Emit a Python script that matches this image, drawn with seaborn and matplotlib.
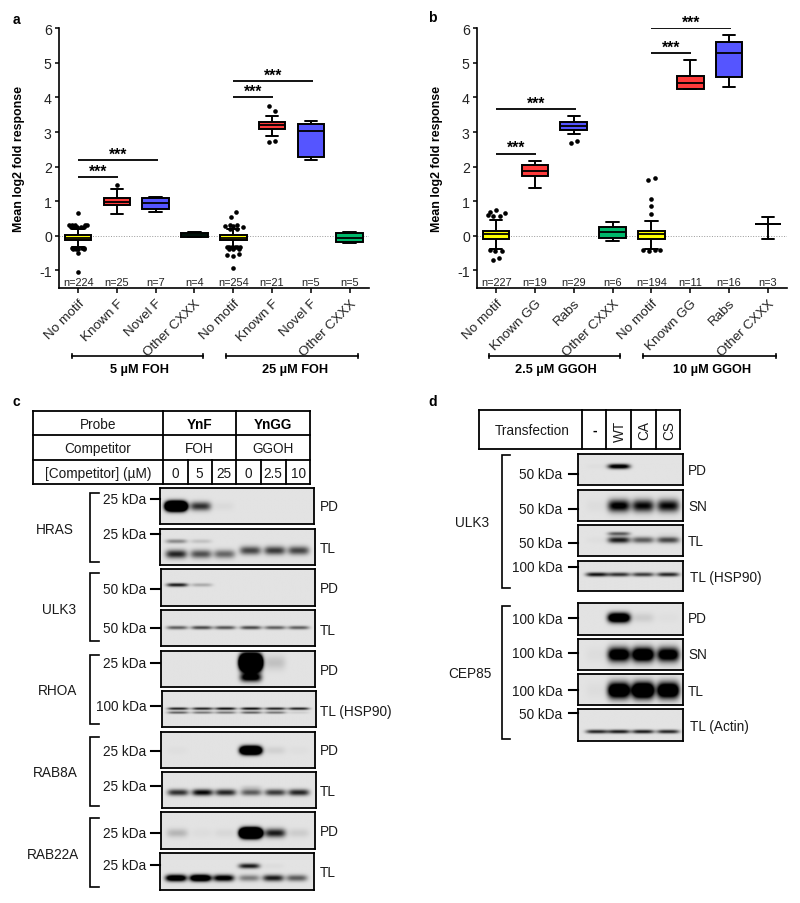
import numpy as np
import pandas as pd
import matplotlib
matplotlib.use("Agg")
import matplotlib.pyplot as plt
import seaborn as sns

sns.set_theme(style="ticks")
plt.rcParams["font.family"] = ["Liberation Sans", "DejaVu Sans"]
plt.rcParams["axes.unicode_minus"] = False

W, H = 800, 904

# ---- box plot values ----
box_colors = ["#FFFF00", "#FF3B3B", "#5555FF", "#00B86B"] * 2

a_labels = ["No motif", "Known F", "Novel F", "Other CXXX"] * 2
a_counts = ["n=224", "n=25", "n=7", "n=4", "n=254", "n=21", "n=5", "n=5"]
a_low = [-0.33, 0.64, 0.70, -0.03, -0.33, 2.90, 2.18, -0.20]
a_q1 = [-0.13, 0.88, 0.78, -0.03, -0.12, 3.10, 2.28, -0.17]
a_med = [-0.05, 0.98, 0.95, 0.03, -0.05, 3.20, 3.02, -0.05]
a_q3 = [0.02, 1.08, 1.09, 0.08, 0.02, 3.30, 3.24, 0.07]
a_high = [0.20, 1.35, 1.12, 0.10, 0.20, 3.45, 3.32, 0.10]
a_out_x = [0, -.23, -.15, -.08, .24, .17, -.17, -.1, -.02, .08, .15, -.16, -.1, .1, .16, -.14, -.05, .01, .14, 0, 0,
           1.0,
           4.08, 3.93, 3.91, 3.79, 4.0, 4.1, 4.24, 3.92, 4.1, 3.84, 3.9, 3.96, 4.04, 4.1, 4.18, 3.88, 4.0, 4.14, 3.85, 4.0, 4.15, 4.0,
           4.92, 5.08, 4.92, 5.08]
a_out_y = [.67, .3, .3, .3, .3, .3, .25, .25, .25, .25, .25, -.34, -.34, -.34, -.34, -.38, -.38, -.38, -.38, -.5, -1.06,
           1.46,
           .69, .53, .3, .27, .28, .3, .26, .2, .2, -.31, -.31, -.31, -.31, -.31, -.31, -.38, -.38, -.38, -.56, -.58, -.53, -.94,
           3.76, 3.62, 2.71, 2.75]

b_labels = ["No motif", "Known GG", "Rabs", "Other CXXX"] * 2
b_counts = ["n=227", "n=19", "n=29", "n=6", "n=194", "n=11", "n=16", "n=3"]
b_low = [-0.38, 1.37, 2.95, -0.14, -0.38, 4.25, 4.30, -0.09]
b_q1 = [-0.08, 1.73, 3.06, -0.06, -0.08, 4.25, 4.60, 0.33]
b_med = [0.04, 1.88, 3.18, 0.10, 0.04, 4.43, 5.30, 0.33]
b_q3 = [0.15, 2.06, 3.28, 0.25, 0.15, 4.62, 5.60, 0.33]
b_high = [0.47, 2.15, 3.45, 0.39, 0.44, 5.07, 5.82, 0.53]
b_out_x = [0, -.16, .23, -.21, -.08, .09, -.15, -.02, .14, -.08, .08, 1.93, 2.09, 3.92, 4.08, 4, 4, 4, 3.78, 3.93, 4.08, 4.23]
b_out_y = [.75, .69, .65, .6, .58, .58, -.42, -.45, -.43, -.69, -.65, 2.68, 2.73, 1.6, 1.66, 1.06, .85, .63, -.4, -.44, -.41, -.4]

a_sig = [(0, 2.05, 2.19), (0, 1.03, 1.71), (4, 6.05, 4.48), (4, 5.03, 4.0)]
b_sig = [(0, 2.05, 3.67), (0, 1.03, 2.38), (4, 6.04, 6.01), (4, 5.01, 5.29)]

# ---- blot band intensities: (box, rows of y, thickness, lane intensities) ----
c_lanes = [.103, .262, .413, .58, .737, .89]
d_lanes = [.18, .39, .62, .86]

c_blots = [
    ((160, 489, 314, 525), [(.52, .12, [4, .8, .04, 0, 0, 0])]),
    ((160, 530, 315, 566), [(.34, .06, [.4, .15, 0, 0, 0, 0]), (.70, .12, [.85, .65, .55, 0, 0, 0]),
                            (.60, .12, [0, 0, 0, .7, .75, .7])]),
    ((161, 570, 315, 607), [(.43, .05, [.9, .25, 0, 0, 0, 0])]),
    ((161, 611, 315, 647), [(.49, .05, [.6, .7, .65, .7, .6, .6])]),
    ((161, 652, 315, 688), [(.32, .2, [0, 0, 0, 6, .15, 0]), (.74, .12, [0, 0, 0, 1.2, 0, 0])]),
    ((162, 692, 316, 728), [(.49, .035, [.9, .9, 1, 1, .9, .9]), (.60, .035, [.6, .5, .5, .6, .5, .1])]),
    ((161, 733, 315, 769), [(.51, .11, [.02, 0, 0, 3, .08, .02])]),
    ((162, 773, 316, 809), [(.57, .09, [.8, 1, .85, .6, .75, .85]), (.43, .07, [0, 0, 0, .1, 0, 0])]),
    ((161, 813, 315, 850), [(.57, .12, [.2, .03, .05, 5, .9, .1])]),
    ((160, 854, 314, 891), [(.35, .07, [0, 0, 0, .9, .03, 0]), (.68, .09, [1.5, 1.8, 1.2, .45, .9, .6])]),
]
d_blots = [
    ((578, 455, 683, 486), [(.40, .08, [.02, 1.2, 0, 0])]),
    ((578, 491, 683, 522), [(.51, .2, [.03, 1.1, 1.0, 1.0])]),
    ((578, 526, 683, 557), [(.50, .1, [.02, .9, .6, .7]), (.30, .06, [0, .6, 0, .03])]),
    ((578, 562, 683, 592), [(.45, .07, [.95, .8, .75, .85])]),
    ((578, 604, 683, 636), [(.46, .15, [0, 1.8, .1, .02])]),
    ((578, 640, 683, 671), [(.52, .22, [.03, 1.5, 1.7, 1.4])]),
    ((578, 675, 683, 706), [(.53, .25, [.03, 1.8, 2.1, 1.8])]),
    ((578, 710, 683, 742), [(.71, .06, [.85, .9, .9, .85])]),
]

# ---- blot annotations ----
c_proteins = [("HRAS", 55, 530, 494, 563), ("ULK3", 59, 610, 574, 642), ("RHOA", 58, 691, 656, 725),
              ("RAB8A", 55, 773, 738, 807), ("RAB22A", 53, 855, 819, 888)]
c_kda = [("25 kDa", 500), ("25 kDa", 535), ("50 kDa", 590), ("50 kDa", 629), ("25 kDa", 664),
         ("100 kDa", 707), ("25 kDa", 752), ("25 kDa", 787), ("25 kDa", 834), ("25 kDa", 866)]
c_right = [("PD", 507), ("TL", 549), ("PD", 589), ("TL", 631), ("PD", 671), ("TL (HSP90)", 712),
           ("PD", 751), ("TL", 792), ("PD", 832), ("TL", 873)]
d_proteins = [("ULK3", 472, 523, 456, 589), ("CEP85", 470, 674, 607, 740)]
d_kda = [("50 kDa", 475, 475), ("50 kDa", 510, 510), ("50 kDa", 544, 544), ("100 kDa", 568, 568),
         ("100 kDa", 620, 619), ("100 kDa", 654, 654), ("100 kDa", 692, 691), ("50 kDa", 715, 714)]
d_right = [("PD", 471), ("SN", 507), ("TL", 542), ("TL (HSP90)", 578), ("PD", 619), ("SN", 655),
           ("TL", 692), ("TL (Actin)", 727)]

fig = plt.figure(figsize=(W / 100, H / 100), dpi=100)


def px_axes(x0, y0, x1, y1, **kw):
    return fig.add_axes([x0 / W, 1 - y1 / H, (x1 - x0) / W, (y1 - y0) / H], **kw)


def box_panel(box, labels, counts, low, q1, med, q3, high, out_x, out_y, sig):
    ax = px_axes(*box)
    df = pd.DataFrame({"low": low, "q1": q1, "med": med, "q3": q3, "high": high})
    df["pos"] = range(8)
    df = df.melt(id_vars="pos", value_name="value")
    sns.boxplot(data=df, x="pos", y="value", hue="pos", palette=box_colors, legend=False, whis=(0, 100),
                width=0.685, linewidth=1.4, linecolor="black", capwidths=0.32, saturation=1, ax=ax,
                medianprops={"color": "black", "linewidth": 1.3})
    sns.scatterplot(x=out_x, y=out_y, color="black", s=11, linewidth=0, zorder=5, ax=ax, legend=False)
    ax.axhline(0, color="#999999", lw=0.7, ls=":", zorder=0)
    for x0, x1, y in sig:
        ax.plot([x0, x1], [y, y], color="black", lw=1.3, solid_capstyle="butt")
        ax.text((x0 + x1) / 2, y - 0.05, "***", ha="center", va="bottom", fontsize=11.3, fontweight="bold", color="black")
    for i, n in enumerate(counts):
        ax.text(i, -1.33, n, ha="center", va="center", fontsize=7.9, color="#222222")
    ax.set_xlim(-0.5, 7.5)
    ax.set_ylim(-1.5, 6)
    ax.set_yticks(range(-1, 7))
    ax.set_xticks(range(8))
    ax.set_xticklabels(labels, rotation=45, ha="right", rotation_mode="anchor", fontsize=9.7, color="#222222")
    ax.tick_params(axis="x", length=3.5, width=1.1, pad=3, color="black")
    ax.tick_params(axis="y", length=3, width=1.1, pad=2, labelsize=10.2, labelcolor="#222222", color="black")
    ax.set_xlabel("")
    ax.set_ylabel("Mean log2 fold response", fontsize=8.9, fontweight="bold", color="black")
    ax.yaxis.set_label_coords(-33.5 / (box[2] - box[0]), 0.5)
    for s in ["top", "right"]:
        ax.spines[s].set_visible(False)
    for s in ["left", "bottom"]:
        ax.spines[s].set_linewidth(1.2)
        ax.spines[s].set_color("black")
    ax.patch.set_alpha(0)
    return ax


box_panel((58.7, 29.3, 369, 288.7), a_labels, a_counts, a_low, a_q1, a_med, a_q3, a_high, a_out_x, a_out_y, a_sig)
box_panel((476.7, 29.3, 787.3, 288.7), b_labels, b_counts, b_low, b_q1, b_med, b_q3, b_high, b_out_x, b_out_y, b_sig)


def draw_blot(box, rows, lanes, half):
    ax = px_axes(*box)
    xx, yy = np.meshgrid(np.linspace(0, 1, 220), np.linspace(0, 1, 70))
    dens = np.zeros_like(xx)
    for y0, sy, vals in rows:
        for c, v in zip(lanes, vals):
            dens += v * np.exp(-((xx - c) / half) ** 4) * np.exp(-((yy - y0) / sy) ** 2)
    img = 0.89 * (1 - np.clip(dens, 0, 1))
    ax.imshow(img, cmap="gray", vmin=0, vmax=1, aspect="auto", extent=(0, 1, 1, 0), interpolation="bilinear")
    ax.set_xticks([])
    ax.set_yticks([])
    for s in ax.spines.values():
        s.set_linewidth(1.3)
        s.set_color("black")


for box, rows in c_blots:
    draw_blot(box, rows, c_lanes, 0.068)
for box, rows in d_blots:
    draw_blot(box, rows, d_lanes, 0.105)

# overlay in pixel coordinates for tables, brackets and labels
ov = fig.add_axes([0, 0, 1, 1], zorder=10)
ov.set_xlim(0, W)
ov.set_ylim(H, 0)
ov.axis("off")
TXT = 9.8


def line(xs, ys, lw=1.2):
    ov.plot(xs, ys, color="black", lw=lw, solid_capstyle="projecting", solid_joinstyle="miter")


def txt(x, y, s, ha="center", size=TXT, **kw):
    ov.text(x, y, s, ha=ha, va="center", fontsize=size, color=kw.pop("color", "#1a1a1a"), **kw)


for x, y, s in [(16, 20.5, "a"), (432, 18, "b"), (16, 402, "c"), (433, 402, "d")]:
    txt(x, y, s, size=10, fontweight="bold", color="black")

# group brackets below the box plots
for x0, x1, cx, s in [(71.7, 202.7, 140, "5 µM FOH"), (225.7, 358, 295, "25 µM FOH"),
                      (489, 620, 555.5, "2.5 µM GGOH"), (643.3, 776, 712.5, "10 µM GGOH")]:
    line([x0, x1], [356.7, 356.7])
    line([x0, x0], [354.7, 358.7])
    line([x1, x1], [354.7, 358.7])
    txt(cx, 370, s, size=9.2, fontweight="bold", color="black")

# table c
for x in [32.7, 162.7, 236, 310]:
    line([x, x], [411.7, 485.3], 1.3)
for y in [411.7, 436, 460.7, 485.3]:
    line([32.7, 310], [y, y], 1.3)
for x in [187.7, 212, 261, 285.7]:
    line([x, x], [460.7, 485.3], 1.3)
txt(98, 425, "Probe")
txt(98, 449, "Competitor")
txt(98, 474, "[Competitor] (µM)")
txt(199.5, 425, "YnF", fontweight="bold", color="black")
txt(273, 425, "YnGG", fontweight="bold", color="black")
txt(199.5, 449, "FOH")
txt(273, 449, "GGOH")
for x, s in zip([175, 199.5, 224, 248, 273, 298], ["0", "5", "25", "0", "2.5", "10"]):
    txt(x, 474, s)

for name, x, y, y0, y1 in c_proteins:
    txt(x, y, name)
    line([98.7, 90.3, 90.3, 98.7], [y0, y0, y1, y1])
for s, y in c_kda:
    txt(146.7, y, s, ha="right")
    line([151, 160], [y, y], 1.5)
for s, y in c_right:
    txt(320, y, s, ha="left")

# table d
for x in [478.7, 581.7, 606.3, 631.3, 655.7, 680.3]:
    line([x, x], [410.7, 450.3], 1.3)
for y in [410.7, 450.3]:
    line([478.7, 680.3], [y, y], 1.3)
txt(532, 431, "Transfection")
txt(594.5, 431, "-", fontweight="bold", color="black")
for x, s in zip([619.5, 644, 669], ["WT", "CA", "CS"]):
    txt(x, 431, s, rotation=90)

for name, x, y, y0, y1 in d_proteins:
    txt(x, y, name)
    line([510, 501.7, 501.7, 510], [y0, y0, y1, y1])
for s, y, ty in d_kda:
    txt(562.7, y, s, ha="right")
    line([569, 578], [ty, ty], 1.5)
for s, y in d_right:
    txt(688 if not s.startswith("TL (") else 690, y, s, ha="left")

fig.savefig("out.png", dpi=100)
